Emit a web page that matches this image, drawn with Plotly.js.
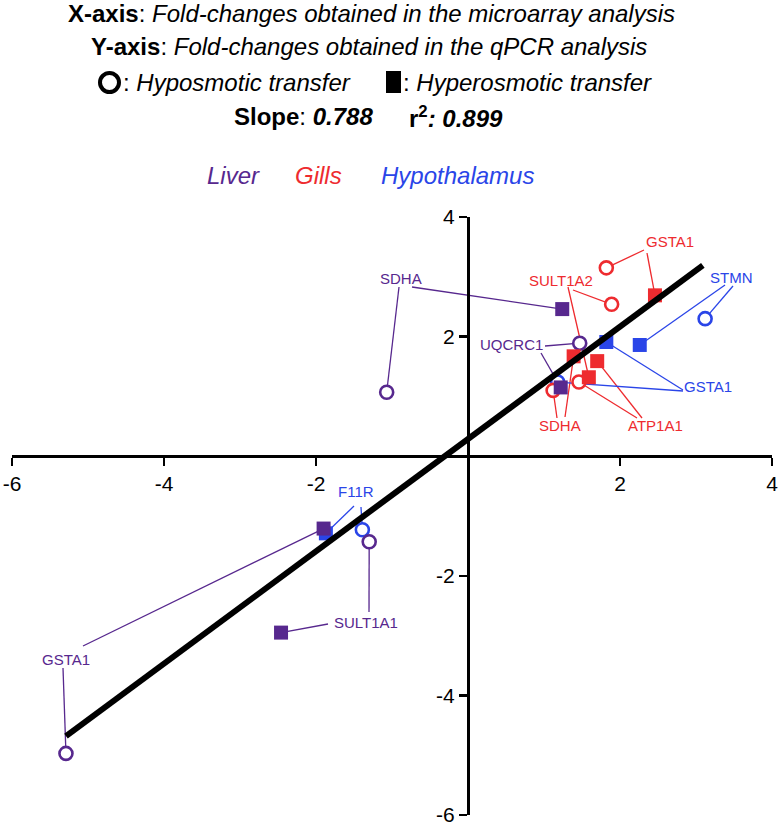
<!DOCTYPE html>
<html>
<head>
<meta charset="utf-8">
<script src="https://cdn.plot.ly/plotly-3.0.1.min.js"></script>
<style>html,body{margin:0;padding:0;background:#fff;}#chart{width:780px;height:828px;}</style>
</head>
<body>
<div id="chart"></div>
<script>
// ---------- DATA ----------
const liverGenes   = ['SDHA', 'UQCRC1', 'GSTA1', 'SULT1A1'];
const liverHypoX   = [-1.07, 1.47, -5.29, -1.30];
const liverHypoY   = [ 1.07, 1.89, -4.97, -1.43];
const liverHyperX  = [ 1.24, 1.22, -1.90, -2.46];
const liverHyperY  = [ 2.46, 1.15, -1.21, -2.95];

const gillsGenes   = ['GSTA1', 'SULT1A2', 'ATP1A1', 'SDHA'];
const gillsHypoX   = [1.82, 1.89, 1.46, 1.12];
const gillsHypoY   = [3.15, 2.54, 1.24, 1.10];
const gillsHyperX  = [2.46, 1.59, 1.70, 1.39];
const gillsHyperY  = [2.69, 1.32, 1.59, 1.67];

const hypoGenes    = ['F11R', 'STMN', 'GSTA1'];
const hypoHypoX    = [-1.39, 3.12, 1.18];
const hypoHypoY    = [-1.23, 2.30, 1.24];
const hypoHyperX   = [-1.87, 2.26, 1.82];
const hypoHyperY   = [-1.29, 1.86, 1.91];

const fitX = [-5.29, 3.09];
const fitY = [-4.68, 3.19];

const xTicks = [-6, -4, -2, 2, 4];
const yTicks = [-6, -4, -2, 2, 4];

// ---------- LAYOUT / STYLE ----------
const W = 780, H = 828;
const M = {l: 12, r: 8, t: 217, b: 13};
const xr = [-6, 4], yr = [-6, 4];
const PW = W - M.l - M.r, PH = H - M.t - M.b;
const pxX = px => xr[0] + (px - M.l) / PW * (xr[1] - xr[0]);
const pxY = py => yr[1] - (py - M.t) / PH * (yr[1] - yr[0]);
const papX = px => (px - M.l) / PW;
const papY = py => (H - M.b - py) / PH;

const COL = {liver: '#57288E', gills: '#EE2B2F', hypo: '#2A45E8'};
const FONT = '"Liberation Sans", Arial, Helvetica, sans-serif';

// label placement in pixels: text centre, leader start to hypo marker, leader start to hyper marker
const labelPx = {
  liver: {
    'SDHA':    {t: [401, 278], ho: [399, 287], he: [412, 287]},
    'UQCRC1':  {t: [511, 344], ho: [545, 346], he: [541, 353]},
    'GSTA1':   {t: [66, 659],  ho: [63, 668],  he: [83, 646]},
    'SULT1A1': {t: [366, 622], ho: [369, 612], he: [328, 624]}
  },
  gills: {
    'GSTA1':   {t: [670, 241], ho: [644, 250], he: [647, 253]},
    'SULT1A2': {t: [561, 280], ho: [573, 290], he: [568, 287]},
    'ATP1A1':  {t: [655, 425], ho: [637, 418], he: [642, 418]},
    'SDHA':    {t: [560, 425], ho: [557, 418], he: [565, 417]}
  },
  hypo: {
    'F11R':    {t: [356, 491], ho: [361, 507], he: [354, 506]},
    'STMN':    {t: [731, 277], ho: [733, 286], he: [725, 285]},
    'GSTA1':   {t: [708, 386], ho: [683, 391], he: [683, 390]}
  }
};

const sets = {
  liver: {genes: liverGenes, hoX: liverHypoX, hoY: liverHypoY, heX: liverHyperX, heY: liverHyperY},
  gills: {genes: gillsGenes, hoX: gillsHypoX, hoY: gillsHypoY, heX: gillsHyperX, heY: gillsHyperY},
  hypo:  {genes: hypoGenes,  hoX: hypoHypoX,  hoY: hypoHypoY,  heX: hypoHyperX,  heY: hypoHyperY}
};

const traces = [];
const annotations = [];

// leader lines
Object.keys(sets).forEach(k => {
  const s = sets[k];
  const lx = [], ly = [];
  s.genes.forEach((g, i) => {
    const p = labelPx[k][g];
    lx.push(pxX(p.ho[0]), s.hoX[i], null, pxX(p.he[0]), s.heX[i], null);
    ly.push(pxY(p.ho[1]), s.hoY[i], null, pxY(p.he[1]), s.heY[i], null);
    annotations.push({
      xref: 'x', yref: 'y', x: pxX(p.t[0]), y: pxY(p.t[1]), text: g, showarrow: false,
      xanchor: 'center', yanchor: 'middle',
      font: {family: FONT, size: 15, color: COL[k]}
    });
  });
  traces.push({x: lx, y: ly, mode: 'lines', line: {color: COL[k], width: 1.3}, hoverinfo: 'skip', cliponaxis: false});
});

// hypo circles (open, white fill)
['hypo', 'liver', 'gills'].forEach(k => {
  const s = sets[k];
  traces.push({x: s.hoX, y: s.hoY, mode: 'markers', cliponaxis: false,
    marker: {symbol: 'circle', size: 13, color: 'white', line: {color: COL[k], width: 2.6}}});
});
// hyper squares
['hypo', 'liver', 'gills'].forEach(k => {
  const s = sets[k];
  traces.push({x: s.heX, y: s.heY, mode: 'markers', cliponaxis: false,
    marker: {symbol: 'square', size: 14, color: COL[k], line: {width: 0}}});
});
// fit line
traces.push({x: fitX, y: fitY, mode: 'lines', line: {color: 'black', width: 6}, cliponaxis: false});

// header
const HS = 24;
const hdr = (text, cx, cy, opts = {}) => Object.assign({
  xref: 'paper', yref: 'paper', x: papX(cx), y: papY(cy), text: text, showarrow: false,
  xanchor: 'center', yanchor: 'middle', font: {family: FONT, size: HS, color: 'black'}
}, opts);

annotations.push(hdr('<b>X-axis</b>: <i>Fold-changes obtained in the microarray analysis</i>', 371, 14));
annotations.push(hdr('<b>Y-axis</b>: <i>Fold-changes obtained in the qPCR analysis</i>', 369, 47));
annotations.push(hdr(': <i>Hyposmotic transfer</i>', 121, 82, {xanchor: 'left'}));
annotations.push(hdr(': <i>Hyperosmotic transfer</i>', 401, 82, {xanchor: 'left'}));
annotations.push(hdr('<b>Slope</b>: <b><i>0.788</i></b>', 232, 117, {xanchor: 'left'}));
annotations.push(hdr('<b>r<sup>2</sup><i>: 0.899</i></b>', 407, 117, {xanchor: 'left'}));
annotations.push(hdr('<i>Liver</i>', 233, 176, {font: {family: FONT, size: HS, color: COL.liver}}));
annotations.push(hdr('<i>Gills</i>', 318, 176, {font: {family: FONT, size: HS, color: COL.gills}}));
annotations.push(hdr('<i>Hypothalamus</i>', 457, 176, {font: {family: FONT, size: HS, color: COL.hypo}}));

// legend symbols in the header
const shapes = [
  {type: 'circle', xref: 'paper', yref: 'paper', x0: papX(100), x1: papX(119), y0: papY(92), y1: papY(73),
   line: {color: 'black', width: 4}, fillcolor: 'rgba(0,0,0,0)'},
  {type: 'rect', xref: 'paper', yref: 'paper', x0: papX(386), x1: papX(401), y0: papY(93), y1: papY(71),
   line: {width: 0}, fillcolor: 'black'}
];

const axisCommon = {
  showgrid: false, zeroline: false, showline: true, linecolor: 'black', linewidth: 2.5,
  ticks: 'outside', ticklen: 8, tickwidth: 2.5, tickcolor: 'black',
  tickfont: {family: FONT, size: 21, color: 'black'}, tickmode: 'array', anchor: 'free',
  fixedrange: true
};

const layout = {
  width: W, height: H, margin: M, showlegend: false,
  paper_bgcolor: 'white', plot_bgcolor: 'white',
  xaxis: Object.assign({}, axisCommon, {range: xr, tickvals: xTicks, ticktext: xTicks.map(String),
    position: (0 - yr[0]) / (yr[1] - yr[0])}),
  yaxis: Object.assign({}, axisCommon, {range: yr, tickvals: yTicks, ticktext: yTicks.map(String),
    position: (0 - xr[0]) / (xr[1] - xr[0])}),
  annotations: annotations,
  shapes: shapes
};

Plotly.newPlot('chart', traces, layout, {displayModeBar: false, staticPlot: true});
</script>
</body>
</html>
